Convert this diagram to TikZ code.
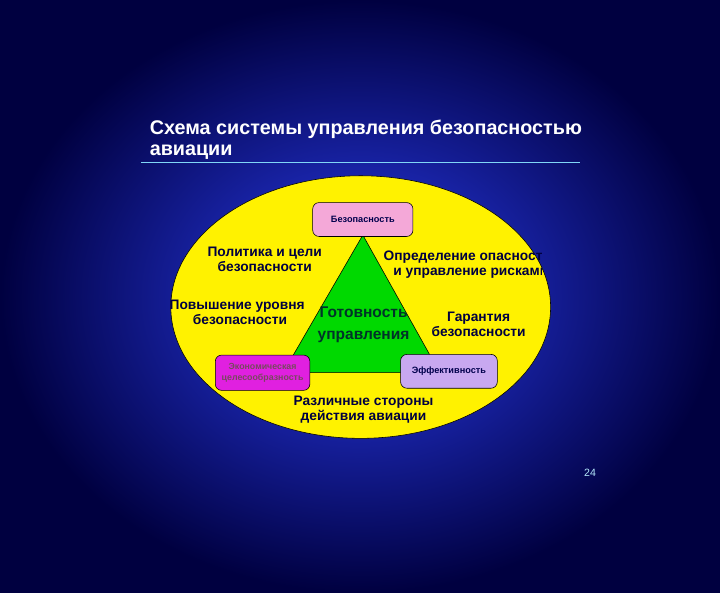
\documentclass[tikz,border=0pt]{standalone}
\usepackage{fontspec}
\setmainfont{Liberation Sans}
\usetikzlibrary{shapes.geometric}
\begin{document}
\begin{tikzpicture}[x=1pt,y=-1pt,
  lbl/.style={font=\bfseries\fontsize{19.5}{21}\selectfont, text=blue!25!black, align=center, inner sep=0pt},
  box/.style={draw=black, thick, rounded corners=9pt, font=\bfseries\fontsize{13}{15}\selectfont, text=blue!30!black, align=center}]
\definecolor{bgin}{HTML}{2A3CF0}
\definecolor{bgout}{HTML}{000040}
\definecolor{pinkbox}{HTML}{F4A8D8}
\definecolor{magbox}{HTML}{E020E0}
\definecolor{lavbox}{HTML}{C8A8F0}
\shade[inner color=bgin, outer color=bgout] (-150,-150) rectangle (870,690);
\useasboundingbox (0,0) rectangle (720,540);
\node[anchor=west, text=white, font=\bfseries\fontsize{28}{32}\selectfont, inner sep=0pt] (t1) at (62,33) {Схема системы управления безопасностью};
\node[anchor=west, text=white, font=\bfseries\fontsize{28}{32}\selectfont, inner sep=0pt] (t2) at (62,66) {авиации};
\draw[cyan!50!white, line width=2pt] (50,80) -- (672,80);
\node[draw=black, thick, fill=yellow, ellipse, minimum width=538, minimum height=372, inner sep=0pt] (ell) at (361,285) {};
\coordinate (a) at (364,183);
\coordinate (bl) at (251,378);
\coordinate (br) at (473,378);
\draw[thick, fill=green!85!black] (a) -- (bl) -- (br) -- cycle;
\node[box, fill=pinkbox, minimum width=142, minimum height=48] (b1) at (364,161) {Безопасность};
\node[box, fill=magbox, text=magenta!40!black, minimum width=134, minimum height=50, font=\bfseries\fontsize{12.5}{15}\selectfont] (b2) at (222,378) {Экономическая\\целесообразность};
\node[box, fill=lavbox, minimum width=137, minimum height=48] (b3) at (486,376) {Эффективность};
\node[lbl] (p1) at (225,217) {Политика и цели\\безопасности};
\begin{scope}
\clip (0,0) rectangle (617,540);
\node[lbl] (p2) at (512,225) {Определение опасности\\\hspace*{10pt}и управление рисками};
\end{scope}
\begin{scope}
\clip (91,0) rectangle (720,540);
\node[lbl, align=right] (p3) at (186,292) {Повышение уровня\\безопасности\hspace*{25pt}};
\end{scope}
\node[lbl, font=\bfseries\fontsize{22}{30}\selectfont, text=blue!20!black!80!green] (p4) at (365,310) {Готовность\\управления};
\node[lbl] (p5) at (528,310) {Гарантия\\безопасности};
\node[lbl] (p6) at (365,430) {Различные стороны\\действия авиации};
\node[text=cyan!30!white, font=\fontsize{15}{17}\selectfont, inner sep=0pt] (n) at (686,520) {24};
\end{tikzpicture}
\end{document}
